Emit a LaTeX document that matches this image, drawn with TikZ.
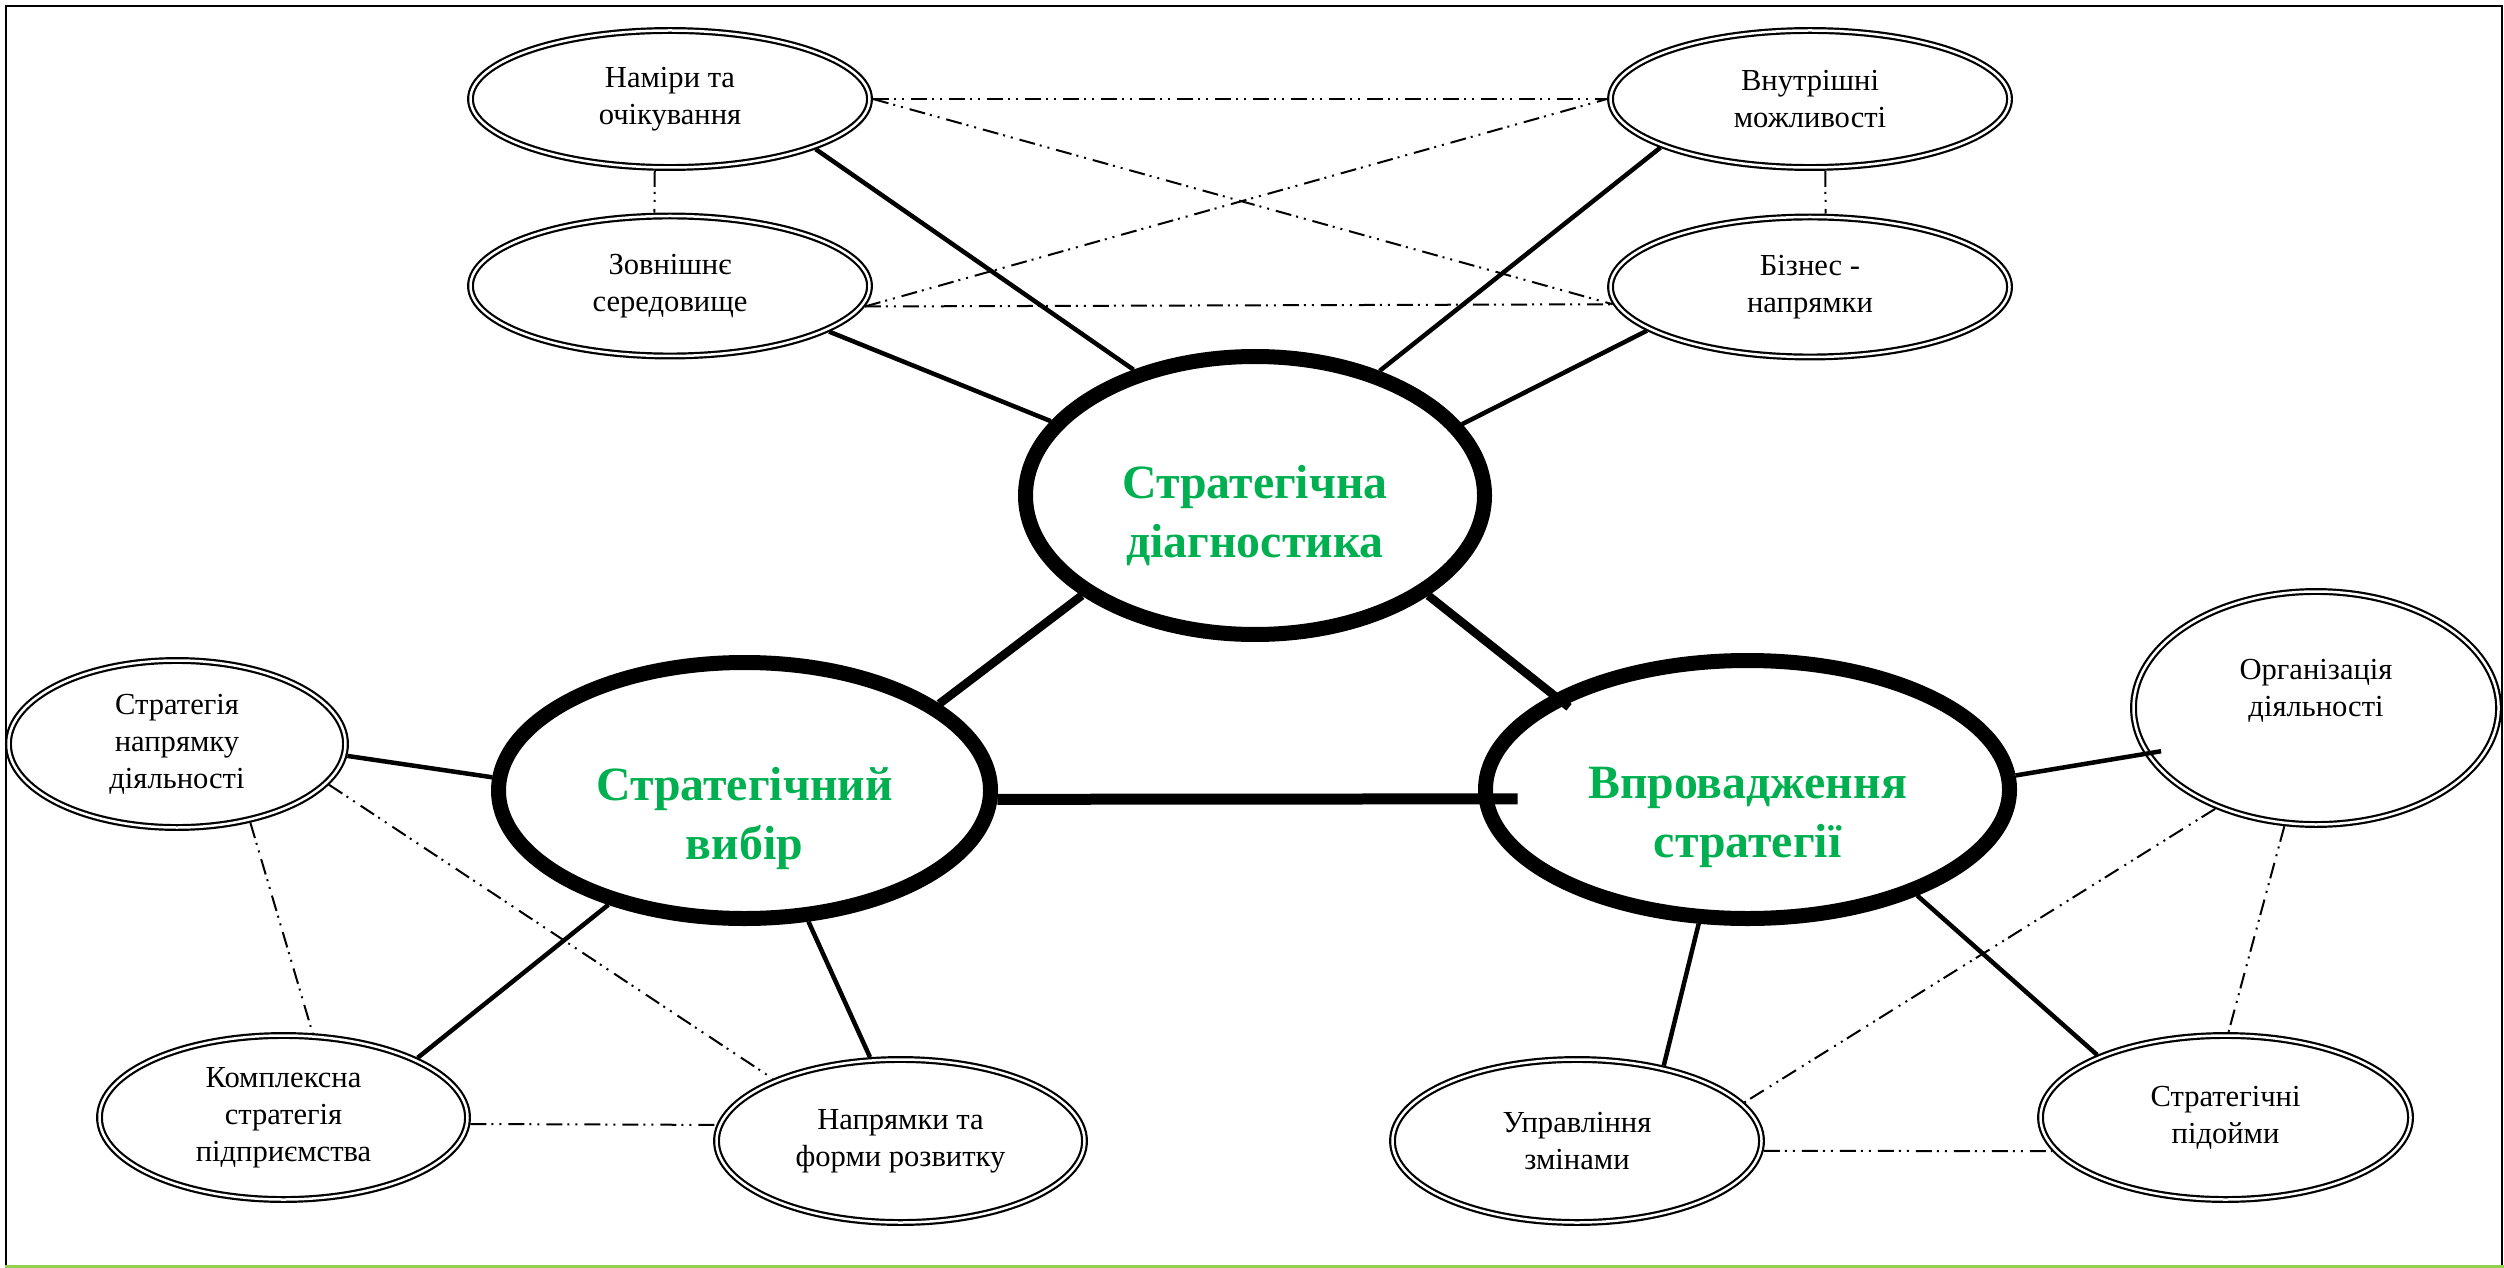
\documentclass[tikz,border=0pt]{standalone}
\usepackage{fontspec}
\setmainfont{Liberation Serif}
\usetikzlibrary{shapes.geometric}

\definecolor{stagegreen}{RGB}{0,176,80}
\definecolor{framegreen}{RGB}{146,208,80}

\tikzset{
    subell/.style={ellipse, draw, line width=0.022cm, double, double distance=0.025cm,
        outer sep=0.035cm, inner sep=0pt, align=center, font=\fontsize{8.7}{10.5}\selectfont},
    stageell/.style={ellipse, draw, line width=0.15cm, inner sep=0pt},
    stagetext/.style={align=center, text=stagegreen, font=\bfseries\fontsize{13.6}{16.8}\selectfont},
    mainlink/.style={line width=0.085cm},
    sublink/.style={line width=0.045cm},
    dotlink/.style={line width=0.02cm, dash pattern=on 0.16cm off 0.05cm on 0.02cm off 0.06cm on 0.02cm off 0.07cm},
}

\begin{document}
\begin{tikzpicture}
    \useasboundingbox (0,0) rectangle (25.04,-12.68);

    % Draw the frame
    \draw[line width=0.02cm] (0.06,-12.66) -- (0.06,-0.06) -- (25.02,-0.06) -- (25.02,-12.66);
    \draw[framegreen, line width=0.03cm] (0.05,-12.665) -- (25.04,-12.665);

    % Draw the three stages
    \node[stageell, minimum width=4.59cm, minimum height=2.78cm,
        label={[stagetext, yshift=-0.2cm]center:Стратегічна\\діагностика}] (diag) at (12.55,-4.955) {};
    \node[stageell, minimum width=4.92cm, minimum height=2.56cm,
        label={[stagetext, yshift=-0.28cm]center:Стратегічний\\вибір}] (choice) at (7.445,-7.905) {};
    \node[stageell, minimum width=5.24cm, minimum height=2.58cm,
        label={[stagetext, yshift=-0.28cm]center:Впровадження\\стратегії}] (impl) at (17.475,-7.895) {};

    % Draw the parts of the diagnostics
    \node[subell, minimum width=3.99cm, minimum height=1.37cm] (intent) at (6.70,-0.99) {Наміри та\\очікування};
    \node[subell, minimum width=3.99cm, minimum height=1.40cm] (outer) at (6.70,-2.86) {Зовнішнє\\середовище};
    \node[subell, minimum width=3.99cm, minimum height=1.37cm] (inner) at (18.10,-0.99) {Внутрішні\\можливості};
    \node[subell, minimum width=3.99cm, minimum height=1.40cm] (business) at (18.10,-2.87) {Бізнес -\\напрямки};

    % Draw the parts of the choice
    \node[subell, minimum width=3.37cm, minimum height=1.67cm] (direction) at (1.77,-7.44) {Стратегія\\напрямку\\діяльності};
    \node[subell, minimum width=3.68cm, minimum height=1.64cm] (complex) at (2.835,-11.175) {Комплексна\\стратегія\\підприємства};
    \node[subell, minimum width=3.68cm, minimum height=1.63cm] (growth) at (9.005,-11.41) {Напрямки та\\форми розвитку};

    % Draw the parts of the implementation
    \node[subell, minimum width=3.65cm, minimum height=2.33cm,
        label={[align=center, font=\fontsize{8.7}{10.5}\selectfont, yshift=0.17cm]center:Організація\\діяльності}] (organize) at (23.16,-7.08) {};
    \node[subell, minimum width=3.69cm, minimum height=1.63cm] (change) at (15.77,-11.41) {Управління\\змінами};
    \node[subell, minimum width=3.70cm, minimum height=1.64cm] (levers) at (22.255,-11.175) {Стратегічні\\підойми};

    % Connect the stages
    \draw[mainlink] (diag.210.5) -- (choice.24.5);
    \draw[mainlink, shorten >=-0.2cm] (diag.330.8) -- (impl.154.2);
    \draw[line width=0.11cm, shorten >=-0.39cm] (choice.-2.3) -- (impl.182.1);

    % Connect the parts to their stage
    \draw[sublink] (intent.341.1) -- (diag.134.3);
    \draw[sublink] (outer.344.7) -- (diag.160.9);
    \draw[sublink] (inner.198.4) -- (diag.45.7);
    \draw[sublink] (business.195.2) -- (diag.19.5);
    \draw[sublink] (direction.356) -- (choice.177.3);
    \draw[sublink] (complex.24.7) -- (choice.220.3);
    \draw[sublink] (growth.110.7) -- (choice.296.1);
    \draw[sublink, shorten >=-0.17cm] (impl.3.2) -- (organize.195.8);
    \draw[sublink] (impl.250.4) -- (change.41.4);
    \draw[sublink] (impl.328.4) -- (levers.154.7);

    % Links between the parts
    \draw[dotlink] (intent.east) -- (inner.west);
    \draw[dotlink] (outer.-6.8) -- (business.185.9);
    \draw[dotlink] (intent.east) -- (business.185.9);
    \draw[dotlink] (outer.-6.8) -- (inner.west);
    \draw[dotlink] (intent.258) -- (outer.102);
    \draw[dotlink] (inner.282) -- (business.78);
    \draw[dotlink] (direction.313.6) -- (complex.71.4);
    \draw[dotlink] (direction.345.8) -- (growth.154.1);
    \draw[dotlink] (complex.-2.5) -- (growth.175.4);
    \draw[dotlink] (organize.225.3) -- (change.13.2);
    \draw[dotlink] (organize.255.2) -- (levers.88);
    \draw[dotlink] (change.-3.35) -- (levers.191.9);
\end{tikzpicture}
\end{document}
